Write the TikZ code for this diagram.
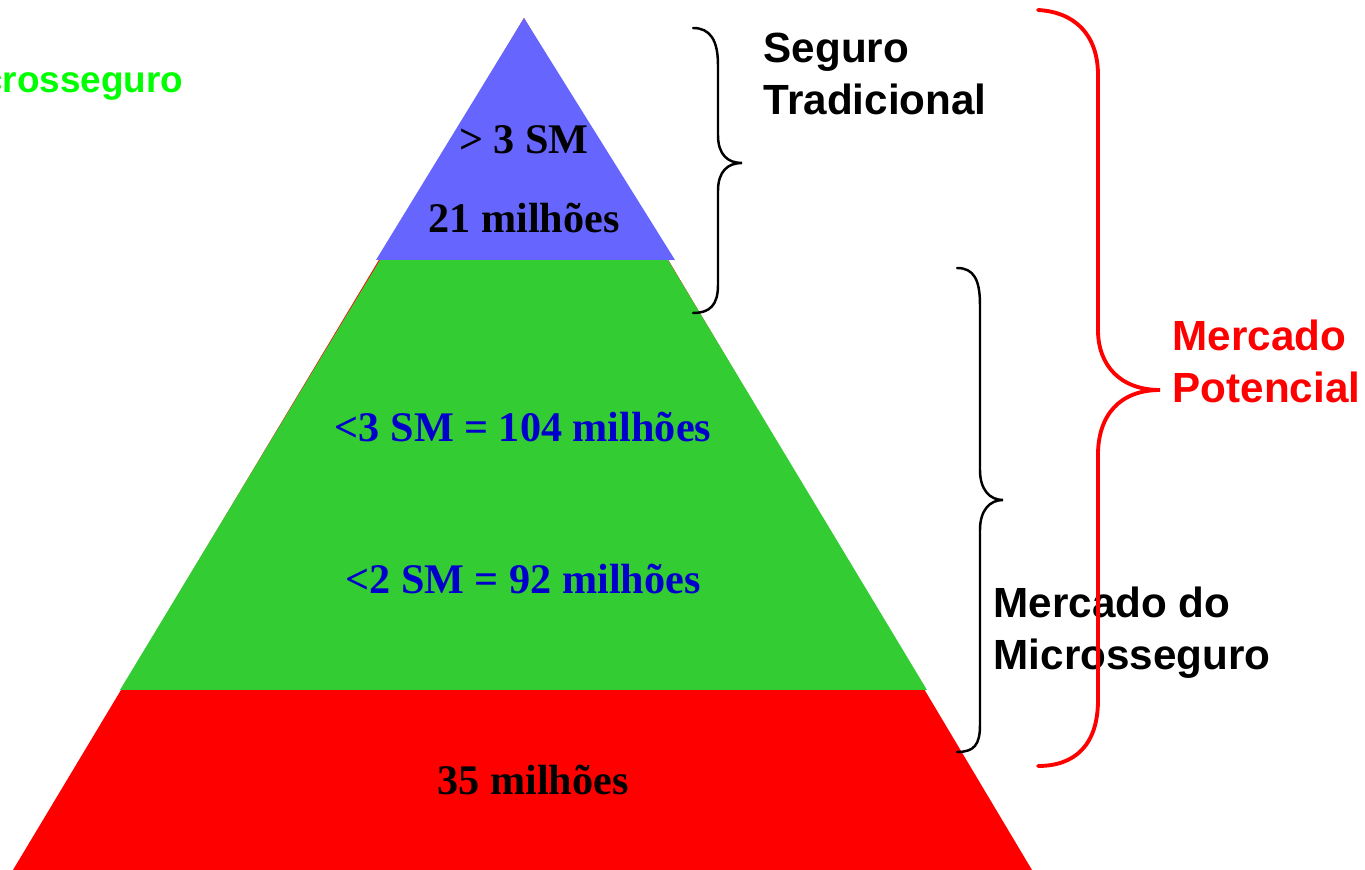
\documentclass[tikz,border=0pt]{standalone}
\usepackage{fontspec}
\setmainfont{Liberation Serif}
\setsansfont{Liberation Sans}

\definecolor{bandblue}{HTML}{6666FF}
\definecolor{bandgreen}{HTML}{33CC33}
\definecolor{inkblue}{HTML}{0000CC}
\definecolor{limegreen}{HTML}{00FF00}

\begin{document}
\begin{tikzpicture}[x = 0.01cm, y = -0.01cm,
    every node/.style = {inner sep = 0pt},
    band/.style = {font = \fontsize{12}{14}\selectfont\bfseries},
    side/.style = {font = \fontsize{12}{14.8}\selectfont\sffamily\bfseries, align = left, anchor = west},
    curly/.style = {draw, line width = 0.7pt, line cap = round}]
    \useasboundingbox (0,0) rectangle (1365,870);
    \clip (0,0) rectangle (1365,870);
    % pyramid
    \fill[red] (524,18) -- (1032,870) -- (13,870) -- cycle;
    \fill[bandgreen] (380,260) -- (668,260) -- (927,690) -- (120,690) -- cycle;
    \fill[bandblue] (524,18) -- (675,260) -- (376,260) -- cycle;
    \node[band] (top) at (524,140) {> 3 SM};
    \node[band] (topn) at (524,218) {21 milhões};
    \node[band, text = inkblue] (mid3) at (523,427) {<3 SM = 104 milhões};
    \node[band, text = inkblue] (mid2) at (523,579) {<2 SM = 92 milhões};
    \node[band] (base) at (533,780) {35 milhões};
    % labels
    \node[side, anchor = east, text = limegreen, font = \fontsize{10.5}{13}\selectfont\sffamily\bfseries] (micro) at (184,83) {Microsseguro};
    \node[side] (trad) at (763,74) {Seguro\\Tradicional};
    \node[side] (mdm) at (993,633) {Mercado do\\Microsseguro};
    \node[side, text = red] (pot) at (1172,361) {Mercado\\Potencial};
    % braces
    \draw[curly] (693,28) .. controls (710,28) and (718,40) .. (718,65) -- (718,135)
        .. controls (718,155) and (728,163) .. (742,163)
        .. controls (728,163) and (718,171) .. (718,191) -- (718,285)
        .. controls (718,305) and (710,313) .. (693,313);
    \draw[curly] (957,268) .. controls (974,268) and (980,280) .. (980,305) -- (980,470)
        .. controls (980,490) and (990,500) .. (1003,500)
        .. controls (990,500) and (980,510) .. (980,530) -- (980,725)
        .. controls (980,745) and (974,752) .. (957,752);
    \draw[curly, red, line width = 1.1pt] (1038,10) .. controls (1075,12) and (1098,35) .. (1098,75) -- (1098,330)
        .. controls (1098,365) and (1120,390) .. (1160,390)
        .. controls (1120,390) and (1098,415) .. (1098,455) -- (1098,700)
        .. controls (1098,745) and (1075,766) .. (1038,766);
\end{tikzpicture}
\end{document}
